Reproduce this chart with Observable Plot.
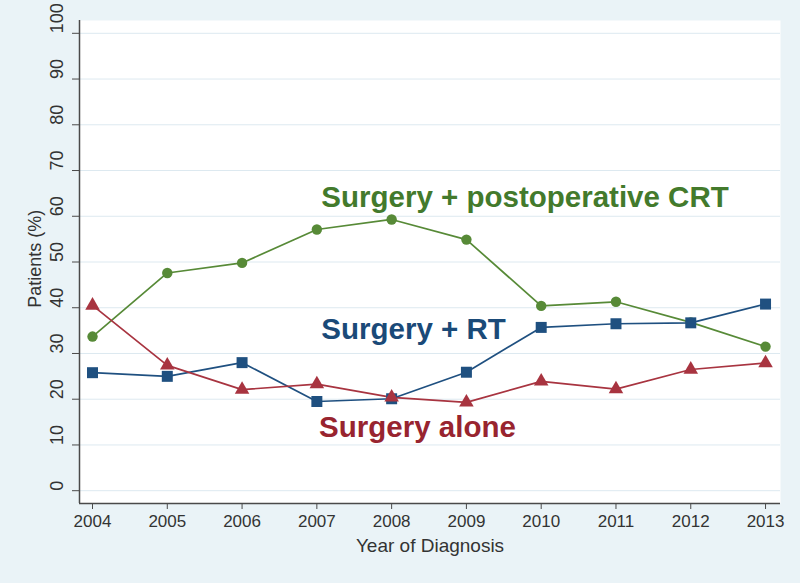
<!DOCTYPE html>
<html>
<head>
<meta charset="utf-8">
<script src="https://cdn.jsdelivr.net/npm/d3@7"></script>
<script src="https://cdn.jsdelivr.net/npm/@observablehq/plot@0.6"></script>
<style>
  html, body { margin: 0; padding: 0; background: #eaf3f7; }
  #chart { width: 800px; height: 583px; }
</style>
</head>
<body>
<div id="chart"></div>
<script>
const years = [2004, 2005, 2006, 2007, 2008, 2009, 2010, 2011, 2012, 2013];
const crt   = [33.7, 47.6, 49.8, 57.1, 59.3, 54.9, 40.4, 41.3, 36.8, 31.5];
const rt    = [25.8, 25.0, 28.0, 19.5, 20.1, 25.9, 35.7, 36.5, 36.7, 40.8];
const alone = [40.5, 27.4, 22.1, 23.3, 20.4, 19.3, 23.9, 22.2, 26.5, 27.9];
const yTicks = [0, 10, 20, 30, 40, 50, 60, 70, 80, 90, 100];
const seriesNames = ["Surgery + postoperative CRT", "Surgery + RT", "Surgery alone"];
const lineColors = ["#578a37", "#1f5080", "#a83440"];
const labelColors = ["#437a2c", "#1a4a78", "#98242f"];
const seriesSymbols = ["circle", "square", "triangle"];
const symbolRadius = [5.2, 6.2, 5.4];
const seriesValues = [crt, rt, alone];
// label anchor in data coordinates (year, percent)
const labelX = [2007.06, 2007.06, 2007.03];
const labelY = [64.1, 35.2, 13.7];

const xDomain = [2003.826, 2013.2];
const yDomain = [-2.8, 102.8];

const marks = [
  Plot.frame({fill: "white", stroke: "none"}),
  Plot.gridY(yTicks, {stroke: "#dde9f0", strokeOpacity: 1, strokeWidth: 1}),
  Plot.ruleX([xDomain[0]], {stroke: "#4a4a4a", strokeWidth: 1.5}),
  Plot.ruleY([yDomain[0]], {stroke: "#4a4a4a", strokeWidth: 1.5}),
  Plot.axisY({ticks: yTicks, tickSize: 7, tickFormat: () => "", label: null, stroke: "#4a4a4a"}),
  Plot.text(yTicks, {y: d => d, text: d => String(d), frameAnchor: "left", dx: -22, rotate: -90, fontSize: 18, fill: "#333"}),
  Plot.axisX({ticks: years, tickSize: 6, tickPadding: 5, tickFormat: d => String(d), fontSize: 17, label: null, stroke: "#4a4a4a", fill: "#333"}),
  Plot.text(["Patients (%)"], {y: 40, text: d => d, frameAnchor: "left", dx: -44, rotate: -90, textAnchor: "start", fontSize: 18, fill: "#333"}),
  Plot.text(["Year of Diagnosis"], {text: d => d, frameAnchor: "bottom", dy: 48, fontSize: 19, fill: "#333"})
];

seriesNames.forEach((name, i) => {
  const rows = years.map((y, j) => ({year: y, value: seriesValues[i][j]}));
  marks.push(Plot.line(rows, {x: "year", y: "value", stroke: lineColors[i], strokeWidth: 1.7}));
});
seriesNames.forEach((name, i) => {
  const rows = years.map((y, j) => ({year: y, value: seriesValues[i][j]}));
  marks.push(Plot.dot(rows, {x: "year", y: "value", symbol: seriesSymbols[i], fill: lineColors[i], stroke: "none", r: symbolRadius[i]}));
});
seriesNames.forEach((name, i) => {
  marks.push(Plot.text([name], {x: labelX[i], y: labelY[i], text: d => d, textAnchor: "start", fontSize: 29.5, fontWeight: "bold", fill: labelColors[i]}));
});

const chart = Plot.plot({
  width: 800,
  height: 583,
  marginLeft: 79,
  marginRight: 20,
  marginTop: 20,
  marginBottom: 80,
  style: {background: "#eaf3f7", fontFamily: "'Liberation Sans', Arial, Helvetica, sans-serif", color: "#333"},
  x: {domain: xDomain, label: null},
  y: {domain: yDomain, label: null},
  marks
});
document.getElementById("chart").appendChild(chart);
</script>
</body>
</html>
